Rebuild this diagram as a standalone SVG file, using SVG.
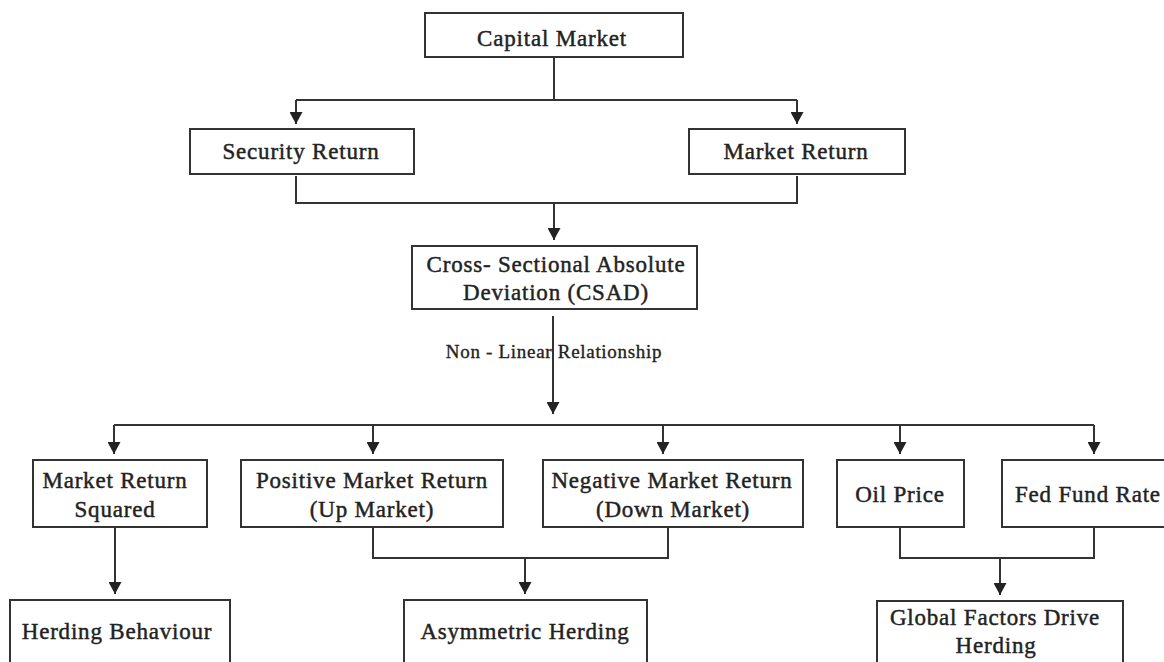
<svg xmlns="http://www.w3.org/2000/svg" width="1164" height="662" viewBox="0 0 1164 662">
<defs>
<style>
.box{fill:#fff;stroke:#333;stroke-width:2}
.t{font-family:"Liberation Serif","Times New Roman",serif;font-size:23px;letter-spacing:0.8px;fill:#222;stroke:#222;stroke-width:0.45px;text-anchor:middle}
.lbl{font-family:"Liberation Serif","Times New Roman",serif;font-size:19px;letter-spacing:0.7px;fill:#222;stroke:#222;stroke-width:0.35px;text-anchor:middle}
.c{fill:none;stroke:#333;stroke-width:2}
</style>
<marker id="ah" viewBox="0 0 13 13" refX="12" refY="6.5" markerWidth="13" markerHeight="13" markerUnits="userSpaceOnUse" orient="auto">
<path d="M0,0 L12,6.5 L0,13 z" fill="#222"/>
</marker>
</defs>
<rect width="1164" height="662" fill="#fff"/>
<g id="connectors">
<path class="c" d="M554,58 V100"/>
<path class="c" d="M296,100 H797"/>
<path class="c" d="M296,100 V124" marker-end="url(#ah)"/>
<path class="c" d="M797,100 V124" marker-end="url(#ah)"/>
<path class="c" d="M296,176 V203 H797 V176"/>
<path class="c" d="M554,203 V240" marker-end="url(#ah)"/>
<path class="c" d="M553,316 V414" marker-end="url(#ah)"/>
<path class="c" d="M114,425 H1094"/>
<path class="c" d="M114,425 V454" marker-end="url(#ah)"/>
<path class="c" d="M373,425 V454" marker-end="url(#ah)"/>
<path class="c" d="M663,425 V454" marker-end="url(#ah)"/>
<path class="c" d="M900,425 V454" marker-end="url(#ah)"/>
<path class="c" d="M1094,425 V454" marker-end="url(#ah)"/>
<path class="c" d="M115,528 V594" marker-end="url(#ah)"/>
<path class="c" d="M373,528 V558 H668 V528"/>
<path class="c" d="M525,558 V594" marker-end="url(#ah)"/>
<path class="c" d="M900,528 V558 H1094 V528"/>
<path class="c" d="M1000,558 V595" marker-end="url(#ah)"/>
</g>
<g id="label-nonlinear">
<text class="lbl" x="554" y="358">Non - Linear Relationship</text>
</g>
<g id="capital-market">
<rect class="box" x="425" y="13" width="258" height="44"/>
<text class="t" x="552" y="46">Capital Market</text>
</g>
<g id="security-return">
<rect class="box" x="190" y="129" width="224" height="45"/>
<text class="t" x="301" y="159">Security Return</text>
</g>
<g id="market-return">
<rect class="box" x="689" y="129" width="216" height="45"/>
<text class="t" x="796" y="159">Market Return</text>
</g>
<g id="csad">
<rect class="box" x="412" y="246" width="285" height="63"/>
<text class="t" x="556" y="272">Cross- Sectional Absolute</text>
<text class="t" x="556" y="300">Deviation (CSAD)</text>
</g>
<g id="market-return-squared">
<rect class="box" x="33" y="460" width="174" height="67"/>
<text class="t" x="115" y="488">Market Return</text>
<text class="t" x="115" y="517">Squared</text>
</g>
<g id="positive-market-return">
<rect class="box" x="241" y="460" width="262" height="67"/>
<text class="t" x="372" y="488">Positive Market Return</text>
<text class="t" x="372" y="517">(Up Market)</text>
</g>
<g id="negative-market-return">
<rect class="box" x="543" y="460" width="260" height="67"/>
<text class="t" x="672" y="488">Negative Market Return</text>
<text class="t" x="673" y="517">(Down Market)</text>
</g>
<g id="oil-price">
<rect class="box" x="837" y="460" width="127" height="67"/>
<text class="t" x="900" y="502">Oil Price</text>
</g>
<g id="fed-fund-rate">
<rect class="box" x="1002" y="460" width="190" height="67"/>
<text class="t" x="1015" y="502" style="text-anchor:start">Fed Fund Rate</text>
</g>
<g id="herding-behaviour">
<rect class="box" x="10" y="600" width="220" height="80"/>
<text class="t" x="117" y="639">Herding Behaviour</text>
</g>
<g id="asymmetric-herding">
<rect class="box" x="404" y="600" width="243" height="80"/>
<text class="t" x="525" y="639">Asymmetric Herding</text>
</g>
<g id="global-factors">
<rect class="box" x="877" y="601" width="246" height="80"/>
<text class="t" x="995" y="625">Global Factors Drive</text>
<text class="t" x="996" y="653">Herding</text>
</g>
</svg>
